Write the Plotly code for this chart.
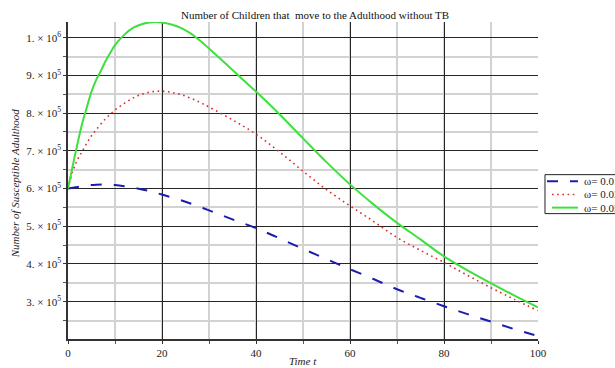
import plotly.graph_objects as go

# Time grid (years) and susceptible-adult counts for three values of omega
t_green = [0, 1, 2, 3, 4, 5, 6, 7, 8, 9, 10, 12, 14, 16, 18, 20, 22, 24, 26, 28,
           30, 32, 35, 40, 45, 50, 55, 60, 65, 70, 75, 80, 85, 90, 95, 100]
s_w05 = [600e3, 660e3, 718e3, 772e3, 815e3, 857e3, 888e3, 912e3, 938e3, 960e3,
         980e3, 1008e3, 1027e3, 1037e3, 1041e3, 1040e3, 1035e3, 1026e3, 1012e3,
         993e3, 971e3, 949e3, 914e3, 857e3, 797e3, 733e3, 670e3, 611e3, 558e3,
         509e3, 465e3, 420e3, 383e3, 349e3, 316e3, 285e3]

t_red = [0, 1, 2, 3, 4, 5, 6, 8, 10, 12, 14, 16, 18, 20, 22, 24, 26, 28, 30, 35,
         40, 45, 50, 55, 60, 65, 70, 75, 80, 85, 90, 95, 100]
s_w03 = [600e3, 645e3, 676e3, 698e3, 720e3, 740e3, 756e3, 785e3, 808e3, 826e3,
         841e3, 851e3, 857e3, 858e3, 855e3, 849e3, 840e3, 829e3, 816e3, 782e3,
         744e3, 697e3, 646e3, 597e3, 554e3, 513e3, 470e3, 436e3, 404e3, 370e3,
         337e3, 306e3, 276e3]

t_blue = [0, 2, 4, 6, 8, 10, 12, 14, 16, 18, 20, 25, 30, 35, 40, 45, 50, 55, 60,
          65, 70, 75, 80, 85, 90, 95, 100]
s_w01 = [600e3, 604e3, 608e3, 610e3, 610.5e3, 609e3, 606e3, 602e3, 597e3, 591e3,
         584e3, 565e3, 542e3, 518e3, 495e3, 468e3, 440e3, 413e3, 386e3, 360e3,
         333e3, 310e3, 288e3, 267e3, 247e3, 227e3, 209e3]

legend_names = ["ω= 0.01", "ω= 0.03", "ω= 0.05"]

y_ticks = [3e5, 4e5, 5e5, 6e5, 7e5, 8e5, 9e5, 1e6]
y_tick_text = ["3. × 10<sup>5</sup>", "4. × 10<sup>5</sup>", "5. × 10<sup>5</sup>",
               "6. × 10<sup>5</sup>", "7. × 10<sup>5</sup>", "8. × 10<sup>5</sup>",
               "9. × 10<sup>5</sup>", "1. × 10<sup>6</sup>"]
x_ticks = [0, 20, 40, 60, 80, 100]

FONT = "Liberation Serif, Times New Roman, serif"
TEXT_COLOR = "#222222"

# Line styles shared by the curves and the compact legend key
styles = [
    dict(color="#1c1cb0", width=2, dash="11px,12px"),
    dict(color="#e02828", width=1.6, dash="1.6px,3.6px"),
    dict(color="#3ee03e", width=2, dash="solid"),
]
series = [(t_blue, s_w01), (t_red, s_w03), (t_green, s_w05)]

fig = go.Figure()
for (tx, sy), name, st in zip(series, legend_names, styles):
    fig.add_trace(go.Scatter(x=tx, y=sy, mode="lines", name=name, showlegend=False,
                             line=dict(shape="spline", **st)))

axis_common = dict(
    showline=True, linecolor="#333333", linewidth=1.5,
    gridcolor="#262626", gridwidth=1, zeroline=False,
    ticks="outside", ticklen=3, tickcolor="#333333",
    tickfont=dict(family=FONT, size=11, color=TEXT_COLOR),
)

fig.update_xaxes(range=[0, 100], tickmode="array", tickvals=x_ticks,
                 minor=dict(dtick=10, tick0=0, showgrid=True, gridcolor="#d2d2d2",
                            gridwidth=1.5, ticks="outside", ticklen=3, tickcolor="#555"),
                 **axis_common)
fig.update_yaxes(range=[201e3, 1041.5e3], tickmode="array", tickvals=y_ticks,
                 ticktext=y_tick_text,
                 minor=dict(tickvals=[2.5e5, 3.5e5, 4.5e5, 5.5e5, 6.5e5, 7.5e5, 8.5e5, 9.5e5],
                            showgrid=True, gridcolor="#d2d2d2", gridwidth=1.5,
                            ticks="outside", ticklen=3, tickcolor="#555"),
                 **axis_common)

# Plot-area geometry in pixels, used to place the legend key outside the axes
W, H = 615, 368
ML, MR, MT, MB = 67.5, 77, 21.7, 29
PW, PH = W - ML - MR, H - MT - MB


def px_x(p):
    return (p - ML) / PW


def px_y(p):
    return (H - MB - p) / PH


shapes = [dict(type="rect", xref="paper", yref="paper",
               x0=px_x(545), x1=px_x(640), y0=px_y(213.5), y1=px_y(174.5),
               line=dict(color=TEXT_COLOR, width=1), fillcolor="white", layer="above")]
annotations = []
row_y = [181, 194.3, 207.5]
for name, st, ry in zip(legend_names, styles, row_y):
    x_start = 547 if st["dash"] != "solid" or st["color"] == "#1c1cb0" else 552
    if st["color"] == "#e02828":
        x_start = 552
    shapes.append(dict(type="line", xref="paper", yref="paper",
                       x0=px_x(x_start), x1=px_x(578), y0=px_y(ry), y1=px_y(ry),
                       line=st, layer="above"))
    annotations.append(dict(text=name, xref="paper", yref="paper",
                            x=px_x(582), y=px_y(ry), xanchor="left", yanchor="middle",
                            showarrow=False,
                            font=dict(family=FONT, size=11, color=TEXT_COLOR)))

annotations += [
    dict(text="Number of Children that  move to the Adulthood without TB",
         xref="paper", yref="paper", x=0.526, y=1.021, xanchor="center",
         yanchor="middle", showarrow=False,
         font=dict(family=FONT, size=11, color="#111111")),
    dict(text="<i>Time t</i>", xref="paper", yref="paper", x=0.5, y=-0.069,
         xanchor="center", yanchor="middle", showarrow=False,
         font=dict(family=FONT, size=11, color=TEXT_COLOR)),
    dict(text="<i>Number of Susceptible Adulthood</i>", xref="paper", yref="paper",
         x=-0.1137, y=0.49, xanchor="center", yanchor="middle", textangle=-90,
         showarrow=False, font=dict(family=FONT, size=11, color=TEXT_COLOR)),
]

fig.update_layout(
    width=W, height=H,
    margin=dict(l=ML, r=MR, t=MT, b=MB, autoexpand=False),
    paper_bgcolor="white", plot_bgcolor="white",
    font=dict(family=FONT, size=11, color=TEXT_COLOR),
    showlegend=False,
    shapes=shapes,
    annotations=annotations,
)

fig.write_html("out.html")
